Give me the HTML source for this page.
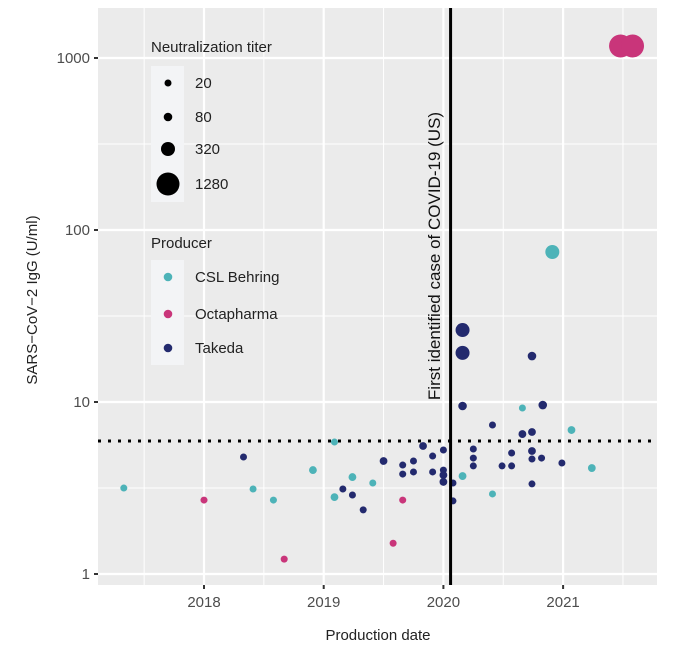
<!DOCTYPE html>
<html><head><meta charset="utf-8"><style>
body{margin:0;background:#fff;}
svg{display:block;font-family:"Liberation Sans",Arial,sans-serif;}
</style></head><body>
<svg id="chart" width="676" height="654">
<rect x="98" y="8" width="559" height="577" fill="#ebebeb"/>
<g id="grid"></g>
<g id="points"></g>
<g id="axes"></g>
<text x="378" y="640" text-anchor="middle" font-size="15" fill="#222">Production date</text>
<text transform="translate(37,300) rotate(-90)" text-anchor="middle" font-size="15" fill="#222">SARS−CoV−2 IgG (U/ml)</text>
<text transform="translate(440,256) rotate(-90)" text-anchor="middle" font-size="17" fill="#111">First identified case of COVID-19 (US)</text>
<g>
<text x="151" y="52" font-size="15" fill="#222">Neutralization titer</text>
<rect x="151" y="66" width="33" height="136" fill="#f3f4f6"/>
<circle cx="168" cy="83" r="3.5" fill="#000"/><text x="195" y="88" font-size="15" fill="#222">20</text>
<circle cx="168" cy="117" r="4.3" fill="#000"/><text x="195" y="122" font-size="15" fill="#222">80</text>
<circle cx="168" cy="149" r="7" fill="#000"/><text x="195" y="154" font-size="15" fill="#222">320</text>
<circle cx="168" cy="184" r="11.5" fill="#000"/><text x="195" y="189" font-size="15" fill="#222">1280</text>
</g>
<g>
<text x="151" y="248" font-size="15" fill="#222">Producer</text>
<rect x="151" y="260" width="33" height="105" fill="#f3f4f6"/>
<circle cx="168" cy="277" r="4.3" fill="#4db3b8"/><text x="195" y="282" font-size="15" fill="#222">CSL Behring</text>
<circle cx="168" cy="314" r="4.3" fill="#c9357a"/><text x="195" y="319" font-size="15" fill="#222">Octapharma</text>
<circle cx="168" cy="348" r="4.3" fill="#232a6e"/><text x="195" y="353" font-size="15" fill="#222">Takeda</text>
</g>
</svg>
<script>
const cslDates=[2017.33,2018.41,2018.58,2018.91,2019.09,2019.09,2019.24,2019.41,2020.16,2020.41,2020.66,2021.07,2021.24,2020.91];
const cslValues=[3.16,3.12,2.69,4.02,5.85,2.80,3.66,3.38,3.71,2.92,9.23,6.87,4.13,74.5];
const cslTiters=[20,20,20,40,20,40,40,20,40,20,20,40,40,320];
const octaDates=[2018.0,2018.67,2019.66,2019.58,2021.48,2021.58];
const octaValues=[2.69,1.22,2.69,1.51,1175,1175];
const octaTiters=[20,20,20,20,1280,1280];
const takDates=[2018.33,2019.50,2019.16,2019.24,2019.33,2019.66,2019.66,2019.75,2019.75,2019.83,2019.91,2019.91,2020.0,2020.0,2020.0,2020.0,2020.08,2020.08,2020.16,2020.16,2020.16,2020.25,2020.25,2020.25,2020.41,2020.49,2020.57,2020.57,2020.66,2020.74,2020.74,2020.74,2020.82,2020.74,2020.83,2020.99,2020.74];
const takValues=[4.79,4.54,3.12,2.88,2.36,4.30,3.81,4.54,3.92,5.55,4.85,3.92,5.26,4.02,3.76,3.43,3.38,2.66,26.2,19.3,9.48,5.33,4.72,4.25,7.35,4.25,5.05,4.25,6.51,6.69,5.19,4.66,4.72,3.34,9.6,4.42,18.5];
const takTiters=[20,40,20,20,20,20,20,20,20,40,20,20,20,20,40,40,20,20,320,320,80,20,20,20,20,20,20,20,40,40,40,20,20,20,80,20,80];
const xTicks=[2018,2019,2020,2021];
const yTicks=[1,10,100,1000];
const refLine=5.93, covidDate=2020.06;
const NS="http://www.w3.org/2000/svg";
const X=d=>204+(d-2018)*119.7;
const Y=v=>574-172*Math.log10(v);
const R=t=>{const a=[[20,3.5],[80,4.3],[320,7],[1280,11.5]];const l=Math.log2(t);
 if(t<=20)return 3.5;for(let i=0;i<3;i++){const l0=Math.log2(a[i][0]),l1=Math.log2(a[i+1][0]);if(l<=l1)return a[i][1]+(a[i+1][1]-a[i][1])*(l-l0)/(l1-l0);}return 11.5;};
function mk(tag,at,parent){const e=document.createElementNS(NS,tag);for(const k in at)e.setAttribute(k,at[k]);parent.appendChild(e);return e;}
const grid=document.getElementById('grid'),axes=document.getElementById('axes'),pts=document.getElementById('points');
for(let yr=2017.5;yr<2022;yr+=1){const l=mk('line',{x1:X(yr),x2:X(yr),y1:8,y2:585,stroke:'#fff','stroke-width':1},grid);

}
for(let i=0;i<yTicks.length;i++){const v=yTicks[i]*Math.sqrt(10);if(Y(v)>8){const l=mk('line',{x1:98,x2:657,y1:Y(v),y2:Y(v),stroke:'#fff','stroke-width':1},grid);

}}
xTicks.forEach(t=>{const l=mk('line',{x1:X(t),x2:X(t),y1:8,y2:585,stroke:'#fff','stroke-width':2.2},grid);


mk('line',{x1:X(t),x2:X(t),y1:585,y2:589,stroke:'#333','stroke-width':2},axes);
const tx=mk('text',{x:X(t),y:607,'text-anchor':'middle','font-size':15,fill:'#4d4d4d'},axes);tx.textContent=t;

});
yTicks.forEach(t=>{const l=mk('line',{x1:98,x2:657,y1:Y(t),y2:Y(t),stroke:'#fff','stroke-width':2.2},grid);


mk('line',{x1:94,x2:98,y1:Y(t),y2:Y(t),stroke:'#333','stroke-width':2},axes);
const tx=mk('text',{x:90,y:Y(t)+5,'text-anchor':'end','font-size':15,fill:'#4d4d4d'},axes);tx.textContent=t;

});
const rl=mk('line',{x1:98,x2:657,y1:Y(refLine),y2:Y(refLine),stroke:'#000','stroke-width':3,'stroke-dasharray':'3 7'},grid);


function series(ds,vs,ts,col,name){ds.forEach((d,i)=>{const c=mk('circle',{cx:X(d),cy:Y(vs[i]),r:R(ts[i]),fill:col},pts);

});}
series(cslDates,cslValues,cslTiters,'#4db3b8','csl-point');
series(octaDates,octaValues,octaTiters,'#c9357a','octapharma-point');
series(takDates,takValues,takTiters,'#232a6e','takeda-point');
const cl=mk('line',{x1:X(covidDate),x2:X(covidDate),y1:8,y2:585,stroke:'#000','stroke-width':3},pts);


</script>
</body></html>
